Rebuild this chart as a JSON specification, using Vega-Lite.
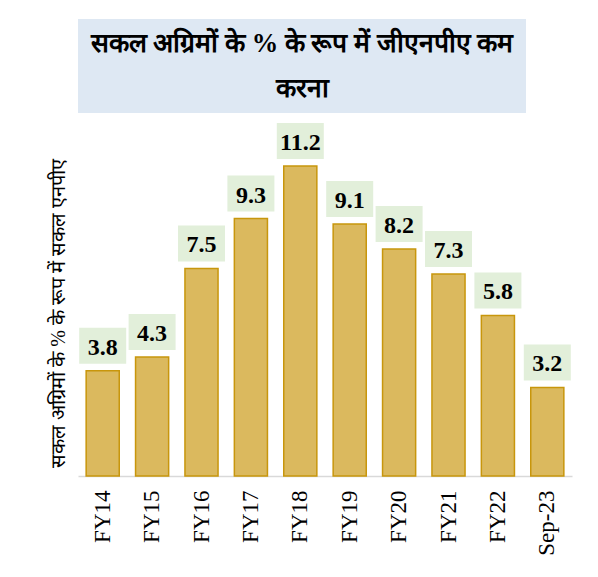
{
  "$schema": "https://vega.github.io/schema/vega-lite/v6.json",
  "background": "white",
  "padding": {"left": 48, "top": 19, "right": 5, "bottom": 5},
  "config": {"view": {"stroke": null}, "font": "Liberation Serif"},
  "datasets": {
    "title": [{"t": "सकल अग्रिमों के % के रूप में जीएनपीए कम\nकरना"}],
    "npa": [
      {"p": "FY14", "v": 3.8},
      {"p": "FY15", "v": 4.3},
      {"p": "FY16", "v": 7.5},
      {"p": "FY17", "v": 9.3},
      {"p": "FY18", "v": 11.2},
      {"p": "FY19", "v": 9.1},
      {"p": "FY20", "v": 8.2},
      {"p": "FY21", "v": 7.3},
      {"p": "FY22", "v": 5.8},
      {"p": "Sep-23", "v": 3.2}
    ]
  },
  "bounds": "flush",
  "spacing": 17,
  "vconcat": [
    {
      "width": 448,
      "height": 94,
      "view": {"fill": "#DEE8F3", "stroke": null},
      "data": {"name": "title"},
      "mark": {"type": "text", "lineBreak": "\n", "fontSize": 26.5, "fontWeight": "bold", "lineHeight": 45, "font": "Liberation Serif", "baseline": "middle", "align": "center", "dy": -22, "color": "black"},
      "encoding": {"text": {"field": "t"}}
    },
    {
      "width": 494,
      "height": 346,
      "data": {"name": "npa"},
      "encoding": {
        "x": {
          "field": "p", "type": "nominal", "sort": null,
          "scale": {"paddingInner": 0.33, "paddingOuter": 0.165},
          "axis": {"title": null, "labelAngle": -90, "labelFontSize": 23, "labelFontWeight": "normal", "labelColor": "black", "labelFont": "Liberation Serif", "ticks": false, "domainColor": "#D9D9D9", "domainWidth": 1.5, "labelPadding": 14}
        },
        "y": {
          "field": "v", "type": "quantitative",
          "scale": {"domain": [0, 12.5]},
          "axis": {"title": "सकल अग्रिमों के % के रूप में सकल एनपीए", "titleFontSize": 20, "titleFontWeight": "normal", "titleColor": "black", "titleFont": "Liberation Serif", "titlePadding": 10, "titleY": 183, "domain": false, "ticks": false, "labels": false, "grid": false}
        }
      },
      "layer": [
        {"mark": {"type": "bar", "fill": "#DBB95E", "stroke": "#C8960C", "strokeWidth": 1.5}},
        {"mark": {"type": "bar", "width": 47, "fill": "#E2EFDA", "yOffset": -43, "y2Offset": -7}, "encoding": {"y2": {"field": "v"}}},
        {"mark": {"type": "text", "fontSize": 24, "fontWeight": "bold", "font": "Liberation Serif", "baseline": "alphabetic", "dy": -16, "color": "black"}, "encoding": {"text": {"field": "v", "format": ".1f"}}}
      ]
    }
  ]
}
